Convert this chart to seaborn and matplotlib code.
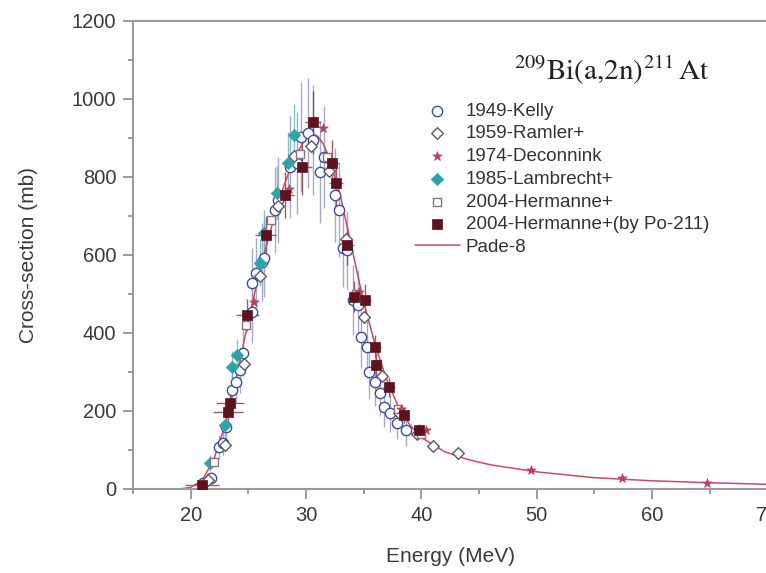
import matplotlib
matplotlib.use("Agg")
import matplotlib.pyplot as plt
import numpy as np
import pandas as pd
import seaborn as sns
from matplotlib.ticker import MultipleLocator

# Pade-8 fit
pade_e = [15, 19, 20, 21, 22, 23, 24, 25, 26, 27, 28, 29, 30, 30.5, 31, 31.5, 32, 33, 34, 35, 36,
          37, 38, 39, 40, 42, 44, 46, 50, 55, 60, 65, 70]
pade_cs = [0, 0, 4, 22, 75, 165, 290, 430, 560, 670, 770, 850, 900, 910, 905, 885, 850, 750, 615,
           480, 370, 280, 212, 165, 132, 96, 76, 62, 44, 29, 21, 16, 12]

# 1949-Kelly
kelly_e = [21.1, 21.8, 22.5, 22.8, 23.1, 23.6, 23.9, 24.3, 24.5, 25.3, 25.3, 25.7, 26.2, 26.4,
           27.3, 27.6, 28.6, 29.2, 29.6, 30.2, 30.6, 31.2, 31.6, 32.5, 32.9, 33.2, 33.6, 34.1,
           34.5, 34.8, 35.3, 35.5, 36.0, 36.4, 36.8, 37.3, 37.9, 38.7]
kelly_cs = [15, 28, 108, 118, 159, 254, 274, 305, 349, 454, 528, 554, 582, 592,
            715, 741, 826, 836, 903, 913, 895, 813, 851, 754, 715, 618, 613, 485,
            472, 390, 364, 300, 274, 246, 210, 195, 169, 151]
kelly_err = [10, 15, 30, 30, 35, 50, 50, 60, 60, 80, 90, 90, 100, 100,
             110, 110, 130, 130, 140, 140, 140, 130, 130, 120, 120, 100, 100, 90,
             90, 80, 80, 70, 60, 60, 50, 50, 40, 40]

# 1959-Ramler+
ramler_e = [21.5, 23.0, 24.6, 26.0, 27.6, 29.0, 30.4, 32.0, 33.5, 35.0, 36.6, 38.1, 39.6, 41.0, 43.2]
ramler_cs = [22, 112, 320, 545, 725, 855, 880, 815, 640, 440, 290, 195, 140, 110, 92]

# 1974-Deconnink
decon_e = [25.5, 28.5, 31.5, 34.6, 38.2, 40.4, 49.5, 57.4, 64.8]
decon_cs = [480, 770, 925, 505, 205, 150, 48, 27, 16]

# 1985-Lambrecht+
lamb_e = [21.7, 23.0, 23.6, 24.0, 26.0, 26.4, 27.5, 28.4, 29.0]
lamb_cs = [67, 164, 313, 344, 580, 656, 759, 836, 908]
lamb_err = [20, 30, 40, 40, 60, 60, 70, 80, 80]

# 2004-Hermanne+
herm_e = [22.0, 24.8, 27.0, 29.5, 31.8, 34.3, 36.2, 38.0, 40.0]
herm_cs = [70, 420, 690, 860, 850, 500, 320, 205, 140]

# 2004-Hermanne+(by Po-211)
po_e = [21.0, 23.2, 23.4, 24.9, 26.5, 28.2, 29.7, 30.6, 32.3, 32.6, 33.6, 34.2, 35.1, 36.0,
        36.1, 37.2, 38.5, 39.8]
po_cs = [10, 197, 220, 446, 650, 754, 825, 940, 835, 785, 625, 493, 485, 365,
         318, 262, 190, 151]
po_xerr = [1.5, 1.3, 1.2, 1.0, 0.9, 0.8, 0.8, 0.7, 0.6, 0.6, 0.6, 0.5, 0.5, 0.5,
           0.5, 0.5, 0.4, 0.4]
po_yerr = [10, 25, 25, 40, 50, 60, 70, 80, 60, 60, 50, 40, 40, 30, 30, 25, 20, 15]

sns.set_theme(style="ticks")
plt.rcParams["font.family"] = ["Liberation Sans", "DejaVu Sans"]
plt.rcParams["mathtext.fontset"] = "stix"

fig = plt.figure(figsize=(7.66, 5.73), dpi=100)
ax = fig.add_axes([0.1736, 0.1466, 0.828, 0.8168])

grey = "#8a8a8a"
c_kelly = "#3d4f9c"
c_ramler = "#5a5a66"
c_decon = "#b5405f"
c_lamb = "#2ba3aa"
c_herm = "#8c7478"
c_po = "#5e1220"
c_pade = "#cc4a60"

# error bars first, so the markers sit on top
ax.errorbar(kelly_e, kelly_cs, yerr=kelly_err, fmt="none", ecolor="#8d95c2", elinewidth=1.0,
            alpha=0.8, zorder=1)
ax.errorbar(lamb_e, lamb_cs, xerr=0.5, yerr=lamb_err, fmt="none", ecolor="#5fb8bd",
            elinewidth=1.0, alpha=0.8, zorder=1)
ax.errorbar(po_e, po_cs, xerr=po_xerr, yerr=po_yerr, fmt="none", ecolor="#7a3a44",
            elinewidth=1.0, alpha=0.8, zorder=1)

sns.lineplot(x=pade_e, y=pade_cs, ax=ax, color=c_pade, linewidth=1.1, label="Pade-8",
             sort=True, zorder=2)

sns.scatterplot(x=kelly_e, y=kelly_cs, ax=ax, marker="o", s=55, facecolor="white",
                edgecolor=c_kelly, linewidth=1.0, label="1949-Kelly", zorder=4)
sns.scatterplot(x=ramler_e, y=ramler_cs, ax=ax, marker="D", s=35, facecolor="white",
                edgecolor=c_ramler, linewidth=1.0, label="1959-Ramler+", zorder=4)
sns.scatterplot(x=decon_e, y=decon_cs, ax=ax, marker="*", s=50, color=c_decon,
                edgecolor=c_decon, linewidth=0.5, label="1974-Deconnink", zorder=5)
sns.scatterplot(x=lamb_e, y=lamb_cs, ax=ax, marker="D", s=40, color=c_lamb,
                edgecolor=c_lamb, linewidth=0.5, label="1985-Lambrecht+", zorder=4)
sns.scatterplot(x=herm_e, y=herm_cs, ax=ax, marker="s", s=35, facecolor="white",
                edgecolor=c_herm, linewidth=1.0, label="2004-Hermanne+", zorder=4)
sns.scatterplot(x=po_e, y=po_cs, ax=ax, marker="s", s=45, color=c_po,
                edgecolor=c_po, linewidth=0.5, label="2004-Hermanne+(by Po-211)", zorder=5)

ax.set_xlim(15, 70)
ax.set_ylim(0, 1200)
ax.xaxis.set_major_locator(MultipleLocator(10))
ax.xaxis.set_minor_locator(MultipleLocator(5))
ax.yaxis.set_major_locator(MultipleLocator(200))
ax.yaxis.set_minor_locator(MultipleLocator(100))
ax.tick_params(which="major", direction="out", length=7, width=1.2, color=grey, pad=5,
               labelsize=14.5, labelcolor="#3a3a3a")
ax.tick_params(which="minor", direction="out", length=3.5, width=1.2, color=grey)
for side in ["left", "bottom", "top"]:
    ax.spines[side].set_color("#9a9a9a")
    ax.spines[side].set_linewidth(1.5)
ax.spines["right"].set_visible(False)

ax.set_xlabel("Energy (MeV)", fontsize=15, color="#3a3a3a", labelpad=16)
ax.set_ylabel("Cross-section (mb)", fontsize=15, color="#3a3a3a", labelpad=24)

ax.text(0.755, 0.895, r"$^{209}\mathrm{Bi}\left(\mathrm{a{,}2n}\right)^{211}\,\mathrm{At}$",
        transform=ax.transAxes, ha="center", va="center", fontsize=21, color="#222222")

handles, labels = ax.get_legend_handles_labels()
order = ["1949-Kelly", "1959-Ramler+", "1974-Deconnink", "1985-Lambrecht+",
         "2004-Hermanne+", "2004-Hermanne+(by Po-211)", "Pade-8"]
hmap = dict(zip(labels, handles))
ax.legend([hmap[k] for k in order], order, loc="upper left", bbox_to_anchor=(0.418, 0.862),
          frameon=False, fontsize=13.5, handlelength=2.4, handletextpad=0.3,
          labelspacing=0.3, labelcolor="#333333")

fig.savefig("out.png", dpi=100)
